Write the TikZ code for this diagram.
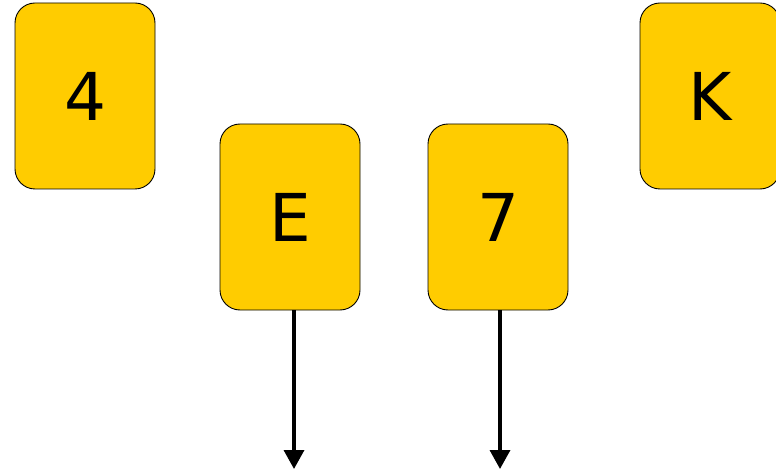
\documentclass[tikz,border=0pt]{standalone}
\usepackage{fontspec}
\setmainfont{DejaVu Sans}
\usetikzlibrary{arrows.meta}
\definecolor{cardyellow}{RGB}{255,204,0}
\begin{document}
\begin{tikzpicture}[x=1pt,y=-1pt,
  card/.style={draw=black,line width=0.9pt,fill=cardyellow,rounded corners=20pt,
    minimum width=140pt,minimum height=186pt,inner sep=0pt,font=\fontsize{66}{70}\selectfont},
  flow/.style={line width=3.5pt,-{Triangle[width=20pt,length=19pt]}}]
\useasboundingbox (0,0) rectangle (776,470);
\node[card] (c4) at (85,96) {4};
\node[card] (cE) at (290,217) {E};
\node[card] (c7) at (498,217) {7};
\node[card] (cK) at (710,96) {K};
\coordinate (eE) at (294,469);
\coordinate (e7) at (500,469);
\draw[flow] (cE.south -| eE) -- (eE);
\draw[flow] (c7.south -| e7) -- (e7);
\end{tikzpicture}
\end{document}
